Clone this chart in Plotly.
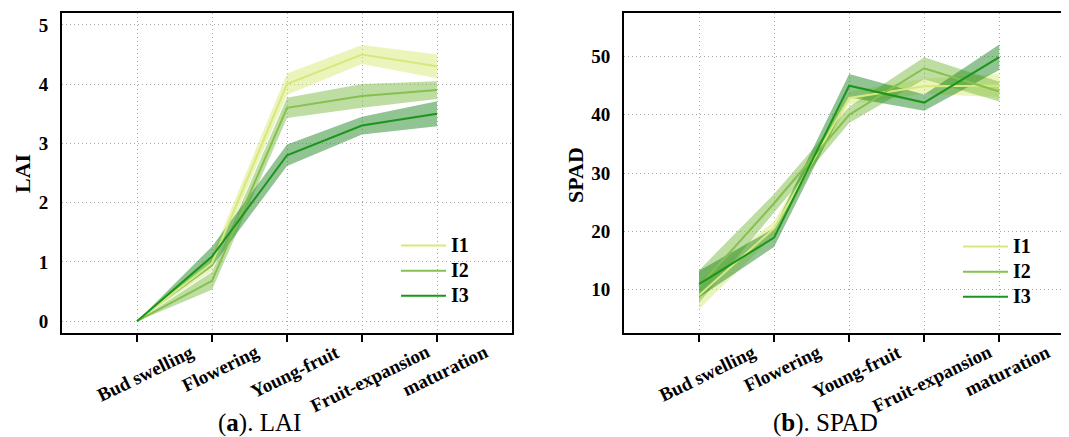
import plotly.graph_objects as go

stages = ["Bud swelling", "Flowering", "Young-fruit", "Fruit-expansion", "maturation"]
series_names = ["I1", "I2", "I3"]

lai_i1 = [0, 0.98, 4.0, 4.5, 4.3]
lai_i1_err = [0, 0.13, 0.18, 0.16, 0.2]
lai_i2 = [0, 0.68, 3.6, 3.8, 3.9]
lai_i2_err = [0, 0.15, 0.17, 0.2, 0.15]
lai_i3 = [0, 1.09, 2.8, 3.3, 3.5]
lai_i3_err = [0, 0.17, 0.18, 0.15, 0.21]

spad_i1 = [9.0, 20.5, 42.9, 44.9, 45.0]
spad_i1_err = [2.4, 1.2, 1.1, 1.3, 2.0]
spad_i2 = [10.5, 24.8, 40.0, 48.0, 44.0]
spad_i2_err = [2.8, 1.6, 1.4, 1.9, 1.7]
spad_i3 = [10.9, 18.9, 45.0, 42.1, 49.9]
spad_i3_err = [2.3, 1.6, 2.0, 1.4, 2.2]

lai_tick_vals = [0, 1, 2, 3, 4, 5]
spad_tick_vals = [10, 20, 30, 40, 50]

line_colors = ["#d6e97c", "#86c04e", "#1a961a"]
fill_colors = ["rgba(210,230,105,0.45)", "rgba(125,188,70,0.5)", "rgba(35,135,40,0.5)"]

FONT = "Liberation Serif"
# page body has an 8px margin; lay out in window pixels and convert
OFF = 8
WIN_W, WIN_H = 1069, 437
W, H = WIN_W - OFF, WIN_H - OFF


def px(xw):
    return (xw - OFF) / W


def py(yw):
    return 1 - (yw - OFF) / H


fig = go.Figure()


def add_panel(means, errs, xa, ya, legend_name):
    for k, (m, e) in enumerate(zip(means, errs)):
        hi = [a + b for a, b in zip(m, e)]
        lo = [a - b for a, b in zip(m, e)]
        fig.add_trace(go.Scatter(
            x=stages + stages[::-1], y=hi + lo[::-1], fill="toself",
            fillcolor=fill_colors[k], line=dict(width=0), mode="lines",
            hoverinfo="skip", showlegend=False, xaxis=xa, yaxis=ya))
    for k, m in enumerate(means):
        fig.add_trace(go.Scatter(
            x=stages, y=m, mode="lines",
            name='<span style="font-size:20px">%s</span>' % series_names[k],
            line=dict(color=line_colors[k], width=2),
            xaxis=xa, yaxis=ya, legend=legend_name))


add_panel([lai_i1, lai_i2, lai_i3], [lai_i1_err, lai_i2_err, lai_i3_err], "x", "y", "legend")
add_panel([spad_i1, spad_i2, spad_i3], [spad_i1_err, spad_i2_err, spad_i3_err], "x2", "y2", "legend2")

top = py(13)
bot = py(333)

GRID = dict(showgrid=True, gridcolor="#a8a8a8", griddash="1px,3px", gridwidth=1)
xcommon = dict(type="category", categoryorder="array", categoryarray=stages,
               showline=True, linecolor="black", linewidth=2, mirror=True,
               ticks="outside", ticklen=7, tickwidth=2, tickcolor="black",
               showticklabels=False, zeroline=False, **GRID)
ycommon = dict(showline=True, linecolor="black", linewidth=2,
               ticks="outside", ticklen=8, tickcolor="rgba(0,0,0,0)",
               tickfont=dict(family=FONT, size=19, color="black", weight="bold"),
               zeroline=False, **GRID)

legend_font = dict(family=FONT, size=17, color="black", weight="bold")
fig.update_layout(
    width=W, height=H, margin=dict(l=0, r=0, t=0, b=0),
    paper_bgcolor="white", plot_bgcolor="white",
    xaxis=dict(domain=[px(62), px(512)], range=[-1, 5], anchor="y", **xcommon),
    yaxis=dict(domain=[bot, top], range=[-0.2, 5.2], tickvals=lai_tick_vals,
               mirror=True, anchor="x", **ycommon),
    xaxis2=dict(domain=[px(624), 1.0], range=[-1, (WIN_W - 699.3) / 75], anchor="y2", **xcommon),
    yaxis2=dict(domain=[bot, top], range=[2.5, 57.5], tickvals=spad_tick_vals,
                mirror=False, anchor="x2", **ycommon),
    legend=dict(x=px(396), y=py(228), xanchor="left", yanchor="top",
                bgcolor="rgba(0,0,0,0)", tracegroupgap=0, itemwidth=45,
                font=legend_font),
    legend2=dict(x=px(958), y=py(229), xanchor="left", yanchor="top",
                 bgcolor="rgba(0,0,0,0)", tracegroupgap=0, itemwidth=45,
                 font=legend_font),
)

annotations = []
for xr, yr in (("x", "y domain"), ("x2", "y2 domain")):
    for s in stages:
        annotations.append(dict(
            x=s, y=0, xref=xr, yref=yr, text="<b>%s</b>" % s, showarrow=False,
            textangle=-26, xanchor="center", yanchor="top", xshift=8, yshift=-5,
            font=dict(family=FONT, size=19, color="black")))

annotations += [
    dict(x=px(22), y=py(174), xref="paper", yref="paper", text="<b>LAI</b>",
         xanchor="center", yanchor="middle",
         textangle=-90, showarrow=False, font=dict(family=FONT, size=22, color="black")),
    dict(x=px(575), y=py(175), xref="paper", yref="paper", text="<b>SPAD</b>",
         xanchor="center", yanchor="middle",
         textangle=-90, showarrow=False, font=dict(family=FONT, size=22, color="black")),
    dict(x=px(259), y=py(423), xref="paper", yref="paper", text="(<b>a</b>). LAI",
         xanchor="center", yanchor="middle",
         showarrow=False, font=dict(family=FONT, size=25, color="black")),
    dict(x=px(825), y=py(423), xref="paper", yref="paper", text="(<b>b</b>). SPAD",
         xanchor="center", yanchor="middle",
         showarrow=False, font=dict(family=FONT, size=25, color="black")),
]
fig.update_layout(annotations=annotations)

fig.write_html("out.html")
